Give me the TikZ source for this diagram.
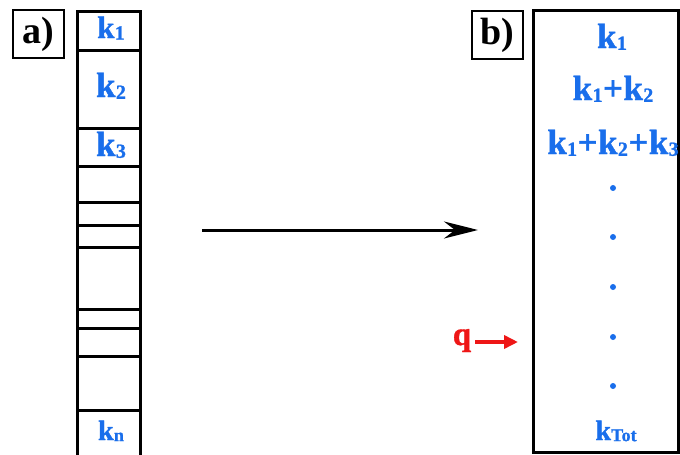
\documentclass[tikz,border=0pt]{standalone}
\usepackage{fontspec}
\setmainfont{Liberation Serif}
\newfontfamily\heavyfont[BoldFeatures={FakeBold=1.2}]{Liberation Serif}
\usetikzlibrary{arrows.meta}
\definecolor{kblue}{RGB}{25,110,235}
\definecolor{qred}{RGB}{238,22,22}
\newcommand\kk[1]{k\kern0.01em\raisebox{-0.05em}{\fontsize{20}{20}\selectfont #1}}
\newcommand\ksm[1]{k\kern0.01em\raisebox{-0.04em}{\fontsize{18}{18}\selectfont #1}}
\newcommand\pls{\kern0.5pt+\kern0.5pt}
\begin{document}
\begin{tikzpicture}[x=1pt,y=-1pt,
  lbl/.style={draw, line width=2pt, minimum width=51pt, minimum height=48pt, inner sep=0pt, font=\fontsize{38}{38}\selectfont\bfseries},
  ktext/.style={text=kblue, font=\fontsize{35}{35}\selectfont\heavyfont\bfseries, inner sep=0pt, anchor=base},
  ksmall/.style={ktext, font=\fontsize{28}{28}\selectfont\heavyfont\bfseries},
  border/.style={line width=3pt},
  cell/.style={line width=3pt},
  dot/.style={circle, fill=kblue, inner sep=0pt, minimum size=6pt},
  bigarrow/.style={line width=3pt, -{Stealth[length=34pt,width=17pt,inset=11pt]}},
  qarrow/.style={line width=3.5pt, draw=qred, -{Triangle[length=14pt,width=13pt]}}]
\useasboundingbox (0,0) rectangle (680,455);
\clip (0,0) rectangle (680,455);
% labels
\node[lbl] (la) at (38.5,34) {a)};
\node[lbl] (lb) at (497,35) {b)};
% left column
\draw[border] (77,470) -- (77,11) -- (140,11) -- (140,470);
\foreach \yy in {50,128,166,202,225,247,309,328,356,410}
  \draw[cell] (77,\yy) -- (140,\yy);
\node[ktext, font=\fontsize{31}{31}\selectfont\heavyfont\bfseries] (ka1) at (111,38) {\kk{1}};
\node[ktext] (ka2) at (111,97) {\kk{2}};
\node[ktext] (ka3) at (111,156) {\kk{3}};
\node[ksmall] (kan) at (111,440) {\ksm{n}};
% right box
\node[draw, border, minimum width=145pt, minimum height=442pt, inner sep=0pt] (rbox) at (605.5,231) {};
\node[ktext] (kb1) at (612,48) {\kk{1}};
\node[ktext] (kb2) at (613,100) {\kk{1}\pls\kk{2}};
\node[ktext] (kb3) at (613,154) {\kk{1}\pls\kk{2}\pls\kk{3}};
\foreach \yy [count=\i] in {188,237,287,337,386}
  \node[dot] (d\i) at (613,\yy) {};
\node[ksmall] (kt) at (616,440) {\ksm{Tot}};
% arrows
\coordinate (as) at (202,230);
\coordinate (ae) at (478,230);
\draw[bigarrow] (as) -- (ae);
\node[text=qred, font=\fontsize{33}{33}\selectfont\heavyfont\bfseries, inner sep=0pt, anchor=base] (q) at (462,345) {q};
\coordinate (qe) at (518,342);
\draw[qarrow] (475,342) -- (qe);
\end{tikzpicture}
\end{document}
